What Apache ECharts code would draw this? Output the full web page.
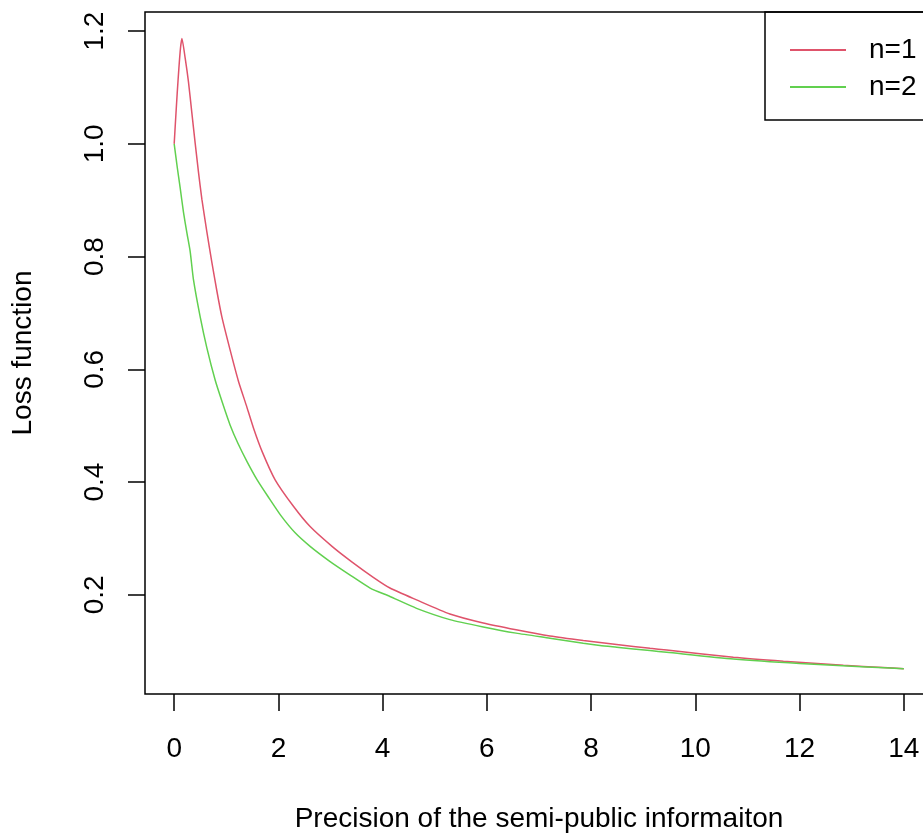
<!DOCTYPE html>
<html>
<head>
<meta charset="utf-8">
<script src="https://cdn.jsdelivr.net/npm/echarts@6/dist/echarts.min.js"></script>
<style>
    html, body{ margin: 0; padding: 0; background: #fff; }
    #loss_chart{ width: 923px; height: 836px; }
</style>
</head>
<body>
<div id="loss_chart"></div>
<script>
    // values
    var seriesNames = ['n=1', 'n=2'];
    var xN1 = [0, 0.029, 0.058, 0.09, 0.121, 0.148, 0.211, 0.274, 0.339, 0.403, 0.466, 0.531, 0.627, 0.723, 0.819, 0.915, 1.074, 1.233, 1.381, 1.521, 1.688, 1.937, 2.288, 2.608, 3.04, 3.414, 3.82, 4.14, 4.65, 5.29, 5.93, 6.56, 7.21, 7.85, 8.49, 9.13, 9.45, 10.73, 11.69, 12.84, 13.6, 14];
    var yN1 = [1.0, 1.046, 1.09, 1.134, 1.17, 1.187, 1.152, 1.110, 1.055, 1.001, 0.950, 0.902, 0.844, 0.790, 0.739, 0.693, 0.634, 0.579, 0.537, 0.496, 0.454, 0.404, 0.357, 0.321, 0.285, 0.258, 0.231, 0.212, 0.191, 0.166, 0.150, 0.138, 0.127, 0.119, 0.112, 0.105, 0.102, 0.089, 0.082, 0.075, 0.071, 0.069];
    var xN2 = [0, 0.058, 0.115, 0.178, 0.244, 0.307, 0.370, 0.499, 0.627, 0.786, 0.921, 1.074, 1.227, 1.40, 1.592, 1.803, 2.052, 2.321, 2.608, 2.992, 3.376, 3.76, 4.14, 4.65, 5.29, 5.93, 6.56, 7.21, 7.85, 8.17, 8.49, 9.13, 9.45, 10.73, 12.0, 13.28, 14];
    var yN2 = [1.0, 0.959, 0.922, 0.879, 0.842, 0.809, 0.759, 0.693, 0.638, 0.581, 0.542, 0.501, 0.468, 0.436, 0.404, 0.374, 0.340, 0.310, 0.286, 0.259, 0.235, 0.212, 0.197, 0.176, 0.156, 0.143, 0.132, 0.123, 0.114, 0.110, 0.107, 0.101, 0.098, 0.086, 0.078, 0.072, 0.069];
    var xTicks = [0, 2, 4, 6, 8, 10, 12, 14];
    var yTicks = [0.2, 0.4, 0.6, 0.8, 1.0, 1.2];

    function pairs(xs, ys){
        return xs.map(function(x, i){ return [x, ys[i]]; });
    }

    var font = "'Liberation Sans', Arial, sans-serif";
    var myChart = echarts.init(document.getElementById('loss_chart'));
    var option = {
        backgroundColor: '#fff',
        animation: false,
        textStyle: { fontFamily: font },
        color: ['#DF536B', '#61D04F'],
        grid: {
            left: 145, top: 12, width: 788, height: 682,
            outerBoundsMode: 'none',
            containLabel: false,
            show: true, borderColor: '#000', borderWidth: 1.5
        },
        legend: {
            data: seriesNames,
            orient: 'vertical',
            left: 765, top: 12,
            padding: [23, 18, 18, 25],
            itemGap: 7,
            itemWidth: 56,
            itemHeight: 2,
            icon: 'rect',
            borderColor: '#000',
            borderWidth: 1.5,
            textStyle: {
                fontSize: 28, color: '#000', fontFamily: font,
                lineHeight: 30, padding: [0, 0, 0, 18]
            }
        },
        xAxis: {
            type: 'value',
            min: -0.56, max: 14.56,
            name: 'Precision of the semi-public informaiton',
            nameLocation: 'middle',
            nameGap: 111,
            nameTextStyle: { fontSize: 28, color: '#000', fontFamily: font },
            axisLine: { show: false, onZero: false },
            axisTick: {
                show: true, inside: false, length: 17, customValues: xTicks,
                lineStyle: { color: '#000', width: 1.5 }
            },
            axisLabel: {
                customValues: xTicks, margin: 41,
                fontSize: 28, color: '#000', fontFamily: font
            },
            splitLine: { show: false }
        },
        yAxis: {
            type: 'value',
            min: 0.024, max: 1.234,
            name: 'Loss function',
            nameLocation: 'middle',
            nameGap: 108,
            nameTextStyle: { fontSize: 28, color: '#000', fontFamily: font },
            axisLine: { show: false, onZero: false },
            axisTick: {
                show: true, inside: false, length: 17, customValues: yTicks,
                lineStyle: { color: '#000', width: 1.5 }
            },
            axisLabel: {
                customValues: yTicks, margin: 36, rotate: 90,
                fontSize: 28, color: '#000', fontFamily: font,
                formatter: function(v){ return v.toFixed(1); }
            },
            splitLine: { show: false }
        },
        series: [
            {
                name: seriesNames[0], type: 'line', symbol: 'none',
                smooth: 0.2,
                data: pairs(xN1, yN1),
                lineStyle: { width: 1.5 }
            },
            {
                name: seriesNames[1], type: 'line', symbol: 'none',
                smooth: 0.2,
                data: pairs(xN2, yN2),
                lineStyle: { width: 1.5 }
            }
        ]
    };
    myChart.setOption(option);
</script>
</body>
</html>
